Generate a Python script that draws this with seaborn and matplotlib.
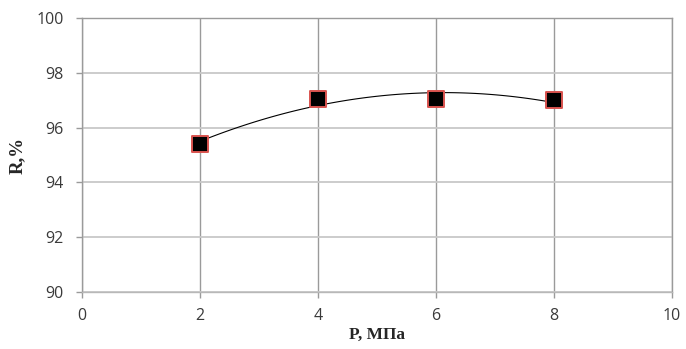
import seaborn as sns
import matplotlib.pyplot as plt

# data
pressure = [2, 4, 6, 8]
retention = [95.42, 97.04, 97.04, 96.99]

x_ticks = [0, 2, 4, 6, 8, 10]
y_ticks = [90, 92, 94, 96, 98, 100]

sns.set_style("white")
plt.rcParams['font.family'] = ['Open Sans', 'DejaVu Sans']

fig = plt.figure(figsize=(6.86, 3.49), dpi=100)
ax = fig.add_axes([0.1195, 0.1633, 0.8601, 0.7851])

# polynomial (order 2) trendline like the spreadsheet one
sns.regplot(ax=ax, x=pressure, y=retention, order=2, ci=None, scatter=False,
            line_kws=dict(color='black', lw=0.8, zorder=3))
sns.scatterplot(ax=ax, x=pressure, y=retention, marker='s', s=120,
                color='black', edgecolor='#d9534f', linewidth=1.4, zorder=4)

ax.set_xlim(0, 10)
ax.set_ylim(90, 100)
ax.set_xticks(x_ticks)
ax.set_yticks(y_ticks)

ax.grid(True, axis='x', color='#9a9a9a', lw=1.0)
ax.grid(True, axis='y', color='#c8c8c8', lw=1.3)
ax.set_axisbelow(True)

for s in ['top', 'right', 'left', 'bottom']:
    ax.spines[s].set_color('#9a9a9a')
    ax.spines[s].set_linewidth(1.0)
ax.spines['bottom'].set_color('#b8b8b8')

ax.tick_params(axis='both', direction='out', length=4.3, width=1, color='#9a9a9a',
               labelsize=11.5, labelcolor='#3a3a3a', bottom=True, left=True)
ax.tick_params(axis='y', pad=9)
ax.tick_params(axis='x', pad=7)

ax.set_xlabel('P, МПа', family=['Liberation Serif'], fontweight='bold',
              fontsize=12.5, labelpad=2)
ax.set_ylabel('R,%', family=['Liberation Serif'], fontweight='bold',
              fontsize=13.5, labelpad=7)

fig.savefig('out.png', dpi=100)
